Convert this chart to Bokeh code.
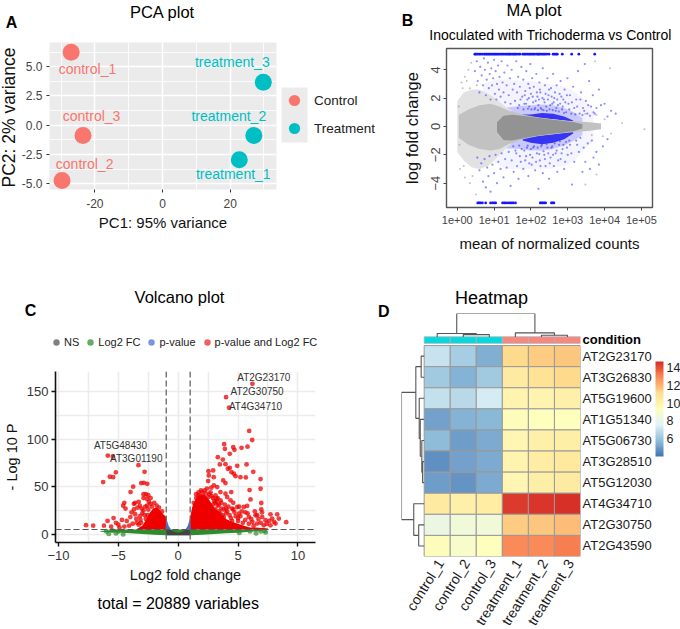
import math
from bokeh.core.properties import value
from bokeh.embed import file_html
from bokeh.resources import INLINE
from bokeh.models import (ColorBar, ColumnDataSource, FixedTicker, Label, Legend,
                          LegendItem, LinearColorMapper, Span)
from bokeh.palettes import RdYlBu7, interp_palette
from bokeh.plotting import figure
from bokeh.transform import linear_cmap

FONT = "Liberation Sans"

# ---------- PCA ----------
pca_names = ["control_1", "control_2", "control_3", "treatment_1", "treatment_2", "treatment_3"]
pca_pc1 = [-27.0, -29.7, -23.5, 22.7, 27.0, 29.8]
pca_pc2 = [6.24, -4.73, -0.88, -2.96, -0.88, 3.68]
pca_groups = ["Control", "Treatment"]
pca_xticks = [-20, 0, 20]
pca_xminor = [-30, -10, 10, 30]
pca_yticks = [-5.0, -2.5, 0.0, 2.5, 5.0]
pca_yminor = [-3.75, -1.25, 1.25, 3.75, 6.25]
pca_ylabels = ["-5.0", "-2.5", "0.0", "2.5", "5.0"]

ma_sparse_x = [1, 1.5, 2.5, 4, 7, 12, 20, 30]
ma_sparse_hi = [1.8, 2.4, 2.6, 2.6, 2.3, 1.9, 1.4, 1.1]
ma_sparse_lo = [-1.8, -2.4, -2.9, -3.0, -2.8, -2.2, -1.6, -1.2]
ma_grey_x = [1.1, 2, 4, 8, 14, 25, 60, 150, 400, 1000, 2000, 4000, 8000]
ma_grey_hi = [0.8, 1.2, 1.5, 1.6, 1.4, 1.1, 0.85, 0.65, 0.5, 0.4, 0.35, 0.3, 0.2]
ma_grey_lo = [-0.8, -1.3, -1.6, -1.7, -1.6, -1.25, -0.9, -0.7, -0.55, -0.45, -0.38, -0.3, -0.2]
ma_dark_x = [12, 18, 30, 60, 120, 300, 700, 1500, 2500]
ma_dark_hi = [0.3, 0.75, 0.82, 0.75, 0.65, 0.5, 0.4, 0.3, 0.15]
ma_dark_lo = [-0.4, -0.95, -1.0, -0.85, -0.7, -0.55, -0.45, -0.32, -0.15]
ma_blue_x = [5, 10, 20, 50, 100, 300, 800, 1500, 3000, 5000]
ma_blue_up = [3.0, 3.3, 3.3, 3.2, 3.2, 3.0, 2.8, 2.5, 1.8, 1.2]
ma_blue_down = [-2.0, -2.5, -3.0, -3.0, -3.0, -3.0, -2.8, -2.4, -1.6, -1.0]
ma_band_x = [12, 25, 50, 100, 200, 400, 800, 1500, 2500]
ma_band_inner_up = [1.0, 0.95, 0.8, 0.66, 0.58, 0.5, 0.42, 0.32, 0.2]
ma_band_outer_up = [1.2, 1.35, 1.45, 1.5, 1.55, 1.5, 1.3, 1.0, 0.6]
ma_band_inner_dn = [-1.25, -1.05, -0.88, -0.72, -0.62, -0.55, -0.45, -0.35, -0.2]
ma_band_outer_dn = [-1.45, -1.55, -1.6, -1.7, -1.7, -1.6, -1.35, -1.0, -0.6]
ma_core_x = [60, 100, 200, 400, 800, 1400]
ma_core_up = [0.85, 0.85, 0.95, 0.9, 0.7, 0.42]
ma_core_inner_up = [0.78, 0.68, 0.58, 0.5, 0.42, 0.33]
ma_core_dn = [-1.0, -1.15, -1.25, -1.15, -0.9, -0.5]
ma_core_inner_dn = [-0.86, -0.72, -0.62, -0.55, -0.45, -0.35]
ma_top_x = [3.0, 3.2, 3.5, 3.9, 4.3, 4.8, 5.4, 5.9, 6.4, 7.0, 7.6, 8.2, 9.0, 9.8, 10.6, 11.5, 12.5, 13.6, 15, 16.5,
            18, 20, 22, 24, 26, 28, 31, 34, 37, 40, 45, 50, 60, 66, 72, 80, 88, 96, 105, 115, 125, 140, 155, 165,
            180, 200, 220, 240, 270, 310, 400, 440, 480, 520, 710, 1280, 2000, 5400]
ma_top_y = [5.1] * len(ma_top_x)
ma_bot_x = [3.6, 3.9, 4.3, 4.8, 5.9, 8, 9, 10, 11, 17, 19, 21, 24, 27, 30, 33, 38, 180, 195, 210, 230, 250, 360, 390, 420]
ma_bot_y = [-5.4] * len(ma_bot_x)
ma_blue_pts = [
    (3, 3.9), (3.4, 4.6), (3.6, 3.2), (4, 2.4), (4.2, 4.2), (4.6, 3.6), (5, 2.9), (5.3, 4.8), (5.6, 4.0), (6, 2.2),
    (6.3, 3.3), (6.8, 4.5), (7.2, 2.7), (7.6, 3.7), (8, 1.9), (8.4, 4.1), (8.8, 2.9), (9.4, 3.4), (10, 4.7), (10.5, 2.3),
    (11, 3.9), (11.5, 1.9), (12, 3.0), (12.8, 4.3), (13.5, 2.6), (14, 3.5), (15, 2.1), (16, 4.6), (17, 3.1), (18, 2.4),
    (19, 3.8), (20, 1.7), (22, 2.9), (23, 4.3), (25, 2.2), (27, 3.4), (28, 1.6), (30, 4.0), (32, 2.6), (35, 3.0),
    (37, 1.8), (40, 4.6), (42, 2.4), (45, 3.5), (48, 1.5), (50, 2.8), (55, 4.2), (58, 2.1), (62, 3.3), (66, 1.6),
    (70, 2.5), (75, 3.9), (80, 1.9), (85, 3.0), (90, 1.4), (96, 4.4), (100, 2.3), (108, 3.4), (115, 1.7), (120, 2.8),
    (130, 1.3), (140, 3.7), (150, 2.1), (160, 1.5), (170, 3.1), (180, 2.4), (195, 1.2), (210, 4.1), (225, 1.9), (240, 2.9),
    (260, 1.4), (280, 3.4), (300, 2.2), (320, 1.2), (350, 2.7), (380, 1.6), (400, 3.7), (430, 2.0), (470, 1.1), (500, 2.9),
    (540, 1.5), (600, 2.3), (640, 3.2), (700, 1.2), (760, 1.9), (820, 2.6), (900, 1.0), (980, 3.4), (1050, 1.6), (1150, 2.2),
    (1250, 0.9), (1400, 2.8), (1500, 1.3), (1700, 1.9), (1900, 3.9), (2100, 0.9), (2300, 2.4), (2600, 1.3), (2900, 4.4),
    (3100, 1.8), (3400, 0.9), (3800, 3.2), (4300, 1.4), (4800, 2.2), (5400, 0.9), (6000, 1.3), (7000, 2.6), (8000, 1.5),
    (10000, 1.6), (12000, 0.7), (15000, 1.1), (20000, 0.9),
    (44, 1.3), (52, 1.9), (63, 1.2), (68, 2.2), (74, 1.6), (83, 1.25), (88, 2.0), (93, 2.7), (103, 1.2), (112, 2.1),
    (125, 1.2), (135, 1.8), (145, 2.4), (155, 1.15), (165, 1.9), (175, 2.6), (185, 1.3), (205, 2.0), (220, 1.15), (235, 1.7),
    (250, 2.3), (270, 1.1), (290, 1.9), (310, 2.6), (335, 1.5), (365, 2.1), (390, 1.15), (415, 1.7), (450, 2.4), (490, 1.3),
    (520, 1.9), (570, 1.05), (620, 1.6), (670, 2.1), (730, 1.4), (790, 0.95), (860, 1.7), (950, 2.2), (1100, 1.2), (1300, 1.7),
    (1600, 0.85), (1800, 1.4), (2200, 1.9), (2500, 0.8), (2800, 1.1), (3600, 1.5), (4000, 0.75), (5000, 1.0),
    (3.5, -2.2), (4, -3.1), (4.5, -2.6), (5, -3.9), (5.5, -2.3), (6, -4.3), (6.5, -2.9), (7, -3.5), (7.5, -2.1), (8, -4.6),
    (9, -2.7), (10, -3.3), (11, -2.0), (12, -4.0), (13, -2.5), (15, -3.0), (16, -1.9), (18, -3.6), (20, -2.3), (22, -2.9),
    (25, -1.8), (28, -4.2), (30, -2.4), (34, -3.2), (38, -1.7), (42, -2.8), (46, -3.7), (50, -2.1), (56, -1.6), (62, -3.0),
    (70, -2.4), (78, -1.5), (85, -3.5), (95, -2.0), (105, -2.7), (115, -1.5), (130, -3.1), (145, -1.9), (160, -4.4), (175, -2.4),
    (190, -1.4), (210, -3.3), (230, -2.0), (250, -2.8), (280, -1.5), (310, -3.7), (340, -2.2), (380, -1.4), (420, -2.8), (470, -1.9),
    (520, -3.2), (580, -1.3), (640, -2.3), (720, -1.6), (800, -3.0), (900, -1.1), (1000, -2.0), (1150, -1.3), (1300, -4.1), (1500, -2.5),
    (1700, -1.0), (2000, -1.8), (2500, -3.2), (3000, -2.5), (3500, -1.2), (4000, -3.0), (5000, -2.2), (6000, -1.8), (7000, -2.7),
    (9000, -1.4), (12000, -0.9),
    (33, -1.4), (40, -1.9), (48, -1.35), (53, -2.5), (66, -1.7), (74, -2.1), (82, -1.35), (90, -2.6), (100, -1.6), (110, -2.2),
    (122, -1.4), (138, -2.5), (152, -1.5), (168, -1.95), (182, -2.8), (198, -1.3), (220, -1.75), (240, -2.3), (265, -1.25), (295, -1.9),
    (325, -2.6), (360, -1.5), (400, -2.0), (445, -1.2), (500, -1.7), (550, -2.4), (610, -1.05), (680, -1.9), (760, -1.3), (850, -2.5),
    (950, -1.5), (1100, -1.0), (1250, -1.9), (1800, -1.3), (2200, -0.8), (2700, -1.5), (4500, -1.0),
]
ma_grey_pts = [
    (1.3, 3.1), (1.6, 3.5), (2, 4.0), (2.4, 4.5), (1.4, 2.7), (1.8, 3.2), (1.2, -3.0), (1.6, -3.6), (2.2, -4.0), (3.2, -4.8),
    (1.5, -2.8), (2.6, -3.5), (14000, 4.1), (5500, 4.6), (3000, 0.9), (6000, 0.8), (10000, 0.5), (30000, 0.25), (120000, -0.2),
    (15000, -0.5), (9000, -0.7), (4500, -0.6), (3000, -4.1), (6000, -3.4), (1.1, 1.4), (1.15, -1.3), (2.2, 2.7), (3.4, 2.9),
]
ma_xticks = [1, 10, 100, 1000, 10000, 100000]
ma_xlabels = ["1e+00", "1e+01", "1e+02", "1e+03", "1e+04", "1e+05"]
ma_yticks = [-4, -2, 0, 2, 4]

# ---------- Volcano: envelopes and hand-read dots ----------
vol_xticks = [-10, -5, 0, 5, 10]
vol_yticks = [0, 50, 100, 150]
vol_xminor = [-7.5, -2.5, 2.5, 7.5]
vol_yminor = [25, 75, 125]
vol_green_x = [-6.5, -5, -4, -3, -2, -1, 1, 2, 3, 4, 5, 6, 7]
vol_green_hi = [3.5, 5, 5, 5, 5, 5, 5, 5, 5, 5, 5, 5, 4.5]
vol_green_lo = [2.5, 1.8, 1.0, 0.3, -0.5, -1, -1, -0.5, 0.2, 0.9, 1.5, 2.5, 3.5]
vol_ns_x = [-1, -0.7, -0.5, -0.3, 0, 0.3, 0.5, 0.7, 1]
vol_ns_hi = [5, 5, 3.8, 2.4, 1.6, 2.4, 3.8, 5, 5]
vol_ns_lo = [-1, -1, -1, -1, -1, -1, -1, -1, -1]
vol_blue_lx = [-1, -0.8, -0.6]
vol_blue_rx = [0.6, 0.8, 1]
vol_blue_l_hi = [17, 9, 5]
vol_blue_r_hi = [5, 9, 17]
vol_blue_lo = [5, 5, 5]
vol_red_lx = [-3.4, -3.0, -2.7, -2.4, -2.1, -1.8, -1.5, -1.25, -1.0]
vol_red_l_hi = [6, 9, 15, 22, 27, 28, 25, 21, 18]
vol_red_rx = [1, 1.2, 1.5, 1.8, 2.2, 2.6, 3, 3.5, 4, 4.5, 5, 5.5, 6, 6.5, 7, 7.5]
vol_red_r_hi = [18, 30, 38, 42, 42, 36, 28, 22, 16, 13, 11, 9, 7, 7, 6.5, 6]
vol_red_lo_l = [5] * len(vol_red_lx)
vol_red_lo_r = [5] * len(vol_red_rx)
vol_green_pts = [(-6.0, 3), (-5.8, 0.5), (-5.2, 1), (-5.0, 3), (-5.5, 4), (-4.6, 0), (5.1, 1.5), (6.0, 3), (6.5, 1), (6.9, 3),
                 (7.3, 2), (7.2, 4)]
vol_red_pts = [
    (6.2, 158), (4.0, 144), (4.25, 133), (5.93, 108.6), (6.18, 99), (3.84, 94.6), (3.9, 89.7), (4.6, 91.4), (4.7, 88.7),
    (5.29, 90.8), (5.79, 92), (4.31, 84.5), (3.31, 81), (3.73, 78.5), (3.48, 73.3), (3.95, 73.6), (4.93, 71.9), (5.71, 73.3),
    (6.27, 65.6), (2.53, 66.3), (2.92, 67), (4.15, 68.8), (4.31, 69.8), (4.45, 65.2), (4.65, 63.6), (4.79, 61), (5.2, 60),
    (5.65, 59.7), (6.88, 57.9), (2.56, 61.8), (2.5, 55.8), (2.97, 60), (3.76, 56.5), (3.95, 53.7), (5.96, 46.4), (6.88, 47.8),
    (6.04, 36.6), (6.94, 32.8), (6.94, 26.2), (2.98, 51.3), (2.76, 48.9), (3.26, 49.6), (3.53, 44.3), (3.95, 42.6), (4.43, 44.3),
    (4.09, 39), (3.53, 35.6), (4.37, 35.6), (3.12, 40.8), (4.93, 28.6), (5.48, 28.6), (5.76, 29.7), (4.51, 26.9), (5.07, 21.6),
    (5.9, 18.2), (6.46, 19.9), (7.02, 18.2), (7.71, 20.9), (8.27, 20.9), (8.41, 16.4), (9.02, 12.6), (7.85, 16.4), (7.29, 14.7),
    (6.6, 11.2), (7.15, 9.4), (7.71, 9.4), (8.13, 11.2),
    (3.1, 33), (3.3, 30), (3.6, 27), (3.9, 31), (4.1, 24), (4.3, 20), (4.7, 23), (5.0, 17), (5.3, 24), (5.6, 15), (5.8, 22),
    (6.2, 13), (6.4, 24), (6.7, 16), (7.0, 23), (7.4, 11), (3.4, 24), (3.7, 20), (2.7, 44), (2.9, 38), (2.4, 48), (2.2, 46),
    (1.9, 46), (1.7, 44), (1.5, 42), (3.2, 37), (4.6, 33), (5.1, 29), (4.0, 27), (6.6, 20), (7.6, 14), (8.0, 13), (6.9, 12),
    (1.3, 33), (1.5, 38), (1.7, 41), (2.0, 44), (2.3, 43), (2.6, 42), (2.8, 40), (3.0, 35), (3.2, 34), (2.5, 39), (3.4, 31),
    (3.6, 33), (3.8, 26), (4.0, 22), (4.2, 29), (4.4, 17), (4.6, 26), (4.8, 19), (5.0, 14), (5.2, 19), (5.4, 12), (5.6, 23),
    (5.9, 11), (6.1, 16), (6.3, 9), (3.1, 26), (3.3, 38), (3.5, 22), (2.9, 31), (4.5, 14), (3.8, 18),
    (-5.88, 82.7), (-5.46, 81.7), (-3.32, 72.6), (-2.81, 65.6), (-5.21, 65), (-5.71, 60.4), (-5.43, 60), (-6.27, 54.8), (-3.76, 50),
    (-3.09, 53.7), (-2.87, 54), (-2.59, 53), (-3.98, 44.3),
    (-2.9, 42), (-2.7, 42), (-2.5, 41), (-2.3, 38), (-2.6, 37), (-2.9, 38), (-3.3, 34), (-3.6, 33), (-3.7, 32), (-4.5, 33),
    (-4.6, 30), (-4.4, 27), (-3.2, 30), (-3.4, 28), (-3.7, 26), (-3.9, 23), (-4.0, 18), (-4.3, 14), (-4.7, 15), (-5.0, 10),
    (-5.2, 12), (-5.4, 17), (-5.6, 8), (-5.9, 14), (-6.2, 9), (-7.1, 9), (-7.7, 9.5), (-4.9, 7), (-4.5, 8), (-4.1, 9),
    (-3.5, 16), (-3.2, 19), (-3.0, 22), (-2.9, 25), (-3.1, 12), (-3.3, 10), (-3.8, 11), (-2.7, 16), (-2.6, 30), (-2.3, 32),
    (-2.0, 33), (-1.8, 30), (-2.5, 26), (-2.75, 29), (-2.45, 34), (-2.2, 29), (-2.8, 20), (-3.15, 15), (-3.45, 12), (-3.6, 21),
    (-3.05, 27), (-2.55, 20), (-1.6, 28), (-1.35, 24),
]
vol_genes = ["AT2G23170", "AT2G30750", "AT4G34710", "AT5G48430", "AT3G01190"]
vol_gene_x = [6.2, 4.0, 4.25, -5.88, -5.46]
vol_gene_y = [158, 144, 133, 82.7, 81.7]
vol_legend = ["NS", "Log2 FC", "p-value", "p-value and Log2 FC"]
vol_pcut = 5
vol_fccut = 1

# ---------- Heatmap ----------
hm_cols = ["control_1", "control_2", "control_3", "treatment_1", "treatment_2", "treatment_3"]
hm_rows = ["AT2G23170", "AT3G26830", "AT5G19600", "AT1G51340", "AT5G06730", "AT3G28510", "AT5G12030", "AT4G34710",
           "AT2G30750", "AT2G43590"]
hm_values = [
    [7.0, 6.3, 5.4, 11.2, 11.5, 11.7],
    [6.2, 5.6, 6.2, 10.5, 10.9, 11.2],
    [6.9, 6.7, 7.4, 9.9, 9.9, 10.1],
    [5.1, 5.5, 5.7, 9.5, 9.4, 9.4],
    [5.8, 5.0, 5.3, 9.8, 10.1, 10.3],
    [4.7, 5.1, 5.3, 9.9, 10.4, 10.6],
    [5.0, 4.8, 5.3, 9.8, 10.3, 10.5],
    [10.5, 10.1, 10.4, 14.4, 14.5, 14.6],
    [8.2, 8.5, 8.5, 11.5, 11.6, 11.9],
    [9.5, 9.0, 9.4, 12.9, 12.9, 13.1],
]
hm_cond_colors = ["#00DAE0", "#00DAE0", "#00DAE0", "#F8877F", "#F8877F", "#F8877F"]
hm_row_dendro = [
    ([0, -0.115, -0.115, 0], [9.5, 9.5, 8.5, 8.5]),
    ([0, -0.06, -0.06, 0], [4.5, 4.5, 3.5, 3.5]),
    ([0, -0.09, -0.09, -0.06], [5.5, 5.5, 4.0, 4.0]),
    ([0, -0.15, -0.15, -0.09], [6.5, 6.5, 4.75, 4.75]),
    ([0, -0.19, -0.19, -0.15], [7.5, 7.5, 5.6, 5.6]),
    ([-0.115, -0.32, -0.32, -0.19], [9.0, 9.0, 6.55, 6.55]),
    ([0, -0.21, -0.21, 0], [1.5, 1.5, 0.5, 0.5]),
    ([0, -0.4, -0.4, -0.21], [2.5, 2.5, 1.0, 1.0]),
    ([-0.32, -0.87, -0.87, -0.4], [7.78, 7.78, 1.75, 1.75]),
]
hm_col_dendro = [
    ([1.5, 1.5, 2.5, 2.5], [10.41, 10.52, 10.52, 10.41]),
    ([0.5, 0.5, 2.0, 2.0], [10.41, 10.57, 10.57, 10.52]),
    ([4.5, 4.5, 5.5, 5.5], [10.41, 10.49, 10.49, 10.41]),
    ([3.5, 3.5, 5.0, 5.0], [10.41, 10.6, 10.6, 10.49]),
    ([1.25, 1.25, 4.25, 4.25], [10.57, 11.52, 11.52, 10.6]),
]
cb_ticks = [6, 8, 10, 12, 14]

PAGE_W, PAGE_H = 680, 629


def make_fig(w, h, left, right, top, bottom, page_x, page_y, **kw):
    return figure(width=w, height=h, output_backend="svg", toolbar_location=None, min_border_left=left,
                  min_border_right=right, min_border_top=top, min_border_bottom=bottom,
                  styles={"position": "absolute", "left": f"{page_x}px", "top": f"{page_y}px"}, **kw)


# Transparent full-page figure: holds titles, panel letters and legends, which lie outside the panels' frames.
O = make_fig(PAGE_W, PAGE_H, 0, 0, 0, 0, 0, 0, x_range=(0, PAGE_W), y_range=(PAGE_H, 0))
O.xaxis.visible = False
O.yaxis.visible = False
O.xgrid.visible = False
O.ygrid.visible = False
O.outline_line_color = None
O.background_fill_alpha = 0
O.border_fill_alpha = 0


def put(origin, px, py, text, size, color="#000000", style="normal", angle=0.0, align="center"):
    """Place a text on the overlay; origin = panel's page offset."""
    O.add_layout(Label(x=origin[0] + px, y=origin[1] + py, text=text, text_font=FONT, text_font_size=f"{size}px",
                       text_color=color, text_font_style=style, text_align=align, text_baseline="middle", angle=angle))


def style_axis(ax, label_size, color="#333333"):
    ax.major_label_text_font = FONT
    ax.major_label_text_font_size = f"{label_size}px"
    ax.major_label_text_color = color
    ax.axis_label_text_font = FONT
    ax.axis_label_text_font_style = "normal"
    ax.axis_label_text_color = "#111111"


def legend_key(color, size):
    # a one-point renderer parked outside the overlay's range: only its legend glyph is seen
    return O.scatter([-50], [-50], size=size, color=color, line_color=None)


# ===== A =====
A = make_fig(390, 270, 49, 114, 42, 81, 0, 0, x_range=(-33.4, 33.7), y_range=(-5.5, 7.07))
A.background_fill_color = "#EBEBEB"
A.outline_line_color = None
A.xaxis.ticker = FixedTicker(ticks=pca_xticks, minor_ticks=pca_xminor)
A.yaxis.ticker = FixedTicker(ticks=pca_yticks, minor_ticks=pca_yminor)
A.yaxis.major_label_overrides = dict(zip(pca_yticks, pca_ylabels))
A.xaxis.major_label_overrides = {-20: "-20", 0: "0", 20: "20"}
for g in (A.xgrid[0], A.ygrid[0]):
    g.grid_line_color = "white"
    g.grid_line_width = 1.5
    g.minor_grid_line_color = "white"
    g.minor_grid_line_width = 0.8
for ax in (A.xaxis[0], A.yaxis[0]):
    style_axis(ax, 12, "#444444")
    ax.axis_line_color = None
    ax.minor_tick_line_color = None
    ax.major_tick_line_color = "#333333"
    ax.major_tick_out = 3
    ax.major_tick_in = 0
    ax.axis_label_text_font_size = "15px"
A.xaxis.axis_label = "PC1: 95% variance"
A.xaxis.major_label_standoff = 5
A.xaxis.axis_label_standoff = 3
A.yaxis.major_label_standoff = 3
pca_color = ["#F8766D"] * 3 + ["#00BFC4"] * 3
pca_off_x = [16.3, 22.6, 8.6, -6, -25, -31]
pca_off_y = [16.3, -16.7, -19.7, 14.7, -19.7, -20]
src = ColumnDataSource(dict(x=pca_pc1, y=pca_pc2, c=pca_color, t=pca_names, ox=pca_off_x, oy=pca_off_y))
A.scatter("x", "y", source=src, size=17, color="c", line_color=None)
A.text("x", "y", text="t", source=src, x_offset="ox", y_offset="oy", text_color="c", text_font=value(FONT),
       text_font_size="14px", text_align="center", text_baseline="middle")
O.quad(left=[281], right=[307], top=[87], bottom=[142], fill_color="#EBEBEB", line_color=None)
keyA = [legend_key(c, 11) for c in ("#F8766D", "#00BFC4")]
O.add_layout(Legend(items=[LegendItem(label=t, renderers=[r]) for t, r in zip(pca_groups, keyA)],
                    location=(280, PAGE_H - 142), orientation="vertical", glyph_width=28, glyph_height=28, spacing=0,
                    padding=0, margin=0, label_standoff=6, border_line_color=None, background_fill_alpha=0,
                    label_text_font=FONT, label_text_font_size="13.5px", label_text_color="#222222"), "center")
put((0, 0), 162, 11, "PCA plot", 16.5)
put((0, 0), 11, 21.7, "A", 16, style="bold")
put((0, 0), 8, 117, "PC2: 2% variance", 17.5, color="#111111", angle=math.pi / 2)

# ===== B =====
B = make_fig(290, 270, 56, 28, 48, 63, 390, 0, x_axis_type="log", x_range=(0.51, 200000), y_range=(-5.72, 5.5))
B.xgrid.visible = False
B.ygrid.visible = False
B.outline_line_color = "#555555"
B.outline_line_width = 1.4
B.varea(ma_blue_x, ma_blue_up, ma_blue_down, fill_color="#4040FF", fill_alpha=0.06)
B.varea(ma_band_x, ma_band_outer_up, ma_band_inner_up, fill_color="#3030FF", fill_alpha=0.22)
B.varea(ma_band_x, ma_band_outer_dn, ma_band_inner_dn, fill_color="#3030FF", fill_alpha=0.22)
B.varea(ma_core_x, ma_core_up, ma_core_inner_up, fill_color="#1010F0", fill_alpha=0.8)
B.varea(ma_core_x, ma_core_dn, ma_core_inner_dn, fill_color="#1010F0", fill_alpha=0.8)
B.varea(ma_sparse_x, ma_sparse_hi, ma_sparse_lo, fill_color="#E2E2E2", fill_alpha=1)
B.varea(ma_grey_x, ma_grey_hi, ma_grey_lo, fill_color="#C2C2C2", fill_alpha=1)
B.varea(ma_dark_x, ma_dark_hi, ma_dark_lo, fill_color="#939393", fill_alpha=1)
B.scatter([p[0] for p in ma_grey_pts], [p[1] for p in ma_grey_pts], size=2, color="#999999", alpha=0.6, line_color=None)
B.scatter([p[0] for p in ma_blue_pts], [p[1] for p in ma_blue_pts], size=2.2, color="#2020FF", alpha=0.5, line_color=None)
B.scatter(ma_top_x, ma_top_y, size=2.8, color="#1515FF", line_color=None)
B.scatter(ma_bot_x, ma_bot_y, size=2.8, color="#1515FF", line_color=None)
B.xaxis.ticker = FixedTicker(ticks=ma_xticks)
B.xaxis.major_label_overrides = dict(zip(ma_xticks, ma_xlabels))
B.yaxis.ticker = FixedTicker(ticks=ma_yticks)
B.yaxis.major_label_orientation = "vertical"
for ax in (B.xaxis[0], B.yaxis[0]):
    style_axis(ax, 11, "#444444")
    ax.axis_line_color = None
    ax.minor_tick_line_color = None
    ax.major_tick_line_color = "#444444"
    ax.major_tick_out = 3
    ax.major_tick_in = 0
B.xaxis.axis_label_text_font_size = "15px"
B.yaxis.axis_label_text_font_size = "16.5px"
B.yaxis.major_label_text_font_size = "13px"
B.xaxis.axis_label = "mean of normalized counts"
B.yaxis.axis_label = "log fold change"
B.xaxis.major_label_standoff = 5
B.xaxis.axis_label_standoff = 8
B.yaxis.major_label_standoff = 3
B.yaxis.axis_label_standoff = 8
put((390, 0), 144, 9, "MA plot", 16.5)
put((390, 0), 160, 34, "Inoculated with Trichoderma vs Control", 14)
put((390, 0), 17, 20, "B", 16, style="bold")

# ===== C =====
C = make_fig(370, 359, 55, 55, 101, 87, 0, 270, x_range=(-10.25, 11.47), y_range=(-8.7, 171))
C.outline_line_color = None
C.xaxis.ticker = FixedTicker(ticks=vol_xticks, minor_ticks=vol_xminor)
C.yaxis.ticker = FixedTicker(ticks=vol_yticks, minor_ticks=vol_yminor)
C.xaxis.major_label_overrides = {-10: "\u221210", -5: "\u22125", 0: "0", 5: "5", 10: "10"}
for g in (C.xgrid[0], C.ygrid[0]):
    g.grid_line_color = "#ECECEC"
    g.grid_line_width = 1.6
    g.minor_grid_line_color = "#ECECEC"
    g.minor_grid_line_width = 1.6
for ax in (C.xaxis[0], C.yaxis[0]):
    style_axis(ax, 13)
    ax.axis_line_color = "#111111"
    ax.axis_line_width = 1.6
    ax.minor_tick_line_color = None
    ax.major_tick_line_color = "#111111"
    ax.major_tick_line_width = 1.4
    ax.major_tick_out = 4
    ax.major_tick_in = 0
    ax.axis_label_text_font_size = "14.5px"
C.xaxis.axis_label = "Log2 fold change"
C.yaxis.axis_label = "- Log 10 P"
C.xaxis.major_label_standoff = 4
C.xaxis.axis_label_standoff = 4
C.yaxis.major_label_standoff = 3
C.yaxis.axis_label_standoff = 4
C.varea(vol_green_x, vol_green_hi, vol_green_lo, fill_color="#2E8B2E")
C.scatter([p[0] for p in vol_green_pts], [p[1] for p in vol_green_pts], size=5, color="#2E8B2E", alpha=0.7, line_color=None)
C.varea(vol_ns_x, vol_ns_hi, vol_ns_lo, fill_color="#444444")
C.varea(vol_blue_lx, vol_blue_l_hi, vol_blue_lo, fill_color="#3F6FE0")
C.varea(vol_blue_rx, vol_blue_r_hi, vol_blue_lo, fill_color="#3F6FE0")
C.varea(vol_red_lx, vol_red_l_hi, vol_red_lo_l, fill_color="#EE0000")
C.varea(vol_red_rx, vol_red_r_hi, vol_red_lo_r, fill_color="#EE0000")
C.scatter([p[0] for p in vol_red_pts], [p[1] for p in vol_red_pts], size=4.8, color="#EE0000", alpha=0.75, line_color=None)
for loc in (-vol_fccut, vol_fccut):
    C.add_layout(Span(location=loc, dimension="height", line_color="#666666", line_dash=[6, 3], line_width=1.3))
C.add_layout(Span(location=vol_pcut, dimension="width", line_color="#555555", line_dash=[6, 3], line_width=1.1))
vsrc = ColumnDataSource(dict(x=vol_gene_x, y=vol_gene_y, t=vol_genes, ox=[11.4, 31, 26.4, 12.7, 23.4],
                             oy=[-6.7, -5.5, -1.3, -10, 2.3]))
C.text("x", "y", text="t", source=vsrc, x_offset="ox", y_offset="oy", text_font=value(FONT), text_font_size="10px",
       text_color="#333333", text_align="center", text_baseline="middle")
keyC = [legend_key(c, 7) for c in ("#808080", "#66AA66", "#7B93E6", "#F06060")]
O.add_layout(Legend(items=[LegendItem(label=t, renderers=[r]) for t, r in zip(vol_legend, keyC)], orientation="horizontal",
                    location=(48, PAGE_H - 351), glyph_width=16, glyph_height=18, spacing=3, padding=0, margin=0,
                    label_standoff=0, label_width=0, border_line_color=None, background_fill_alpha=0, label_text_font=FONT,
                    label_text_font_size="11px", label_text_color="#222222"), "center")
put((0, 270), 179, 26.7, "Volcano plot", 16.5)
put((0, 270), 30, 40, "C", 16, style="bold")
put((0, 270), 177.7, 333, "total = 20889 variables", 16)

# ===== D =====
D = make_fig(310, 359, 31, 100, 43, 73, 370, 270, x_range=(-0.87, 6), y_range=(0, 11.52), y_axis_location="right")
D.outline_line_color = None
D.xgrid.visible = False
D.ygrid.visible = False
D.xaxis.visible = False
cx, cy, cv = [], [], []
for i, vals in enumerate(hm_values):
    for j, v in enumerate(vals):
        cx.append(j + 0.5)
        cy.append(9.5 - i)
        cv.append(v)
pal = interp_palette(RdYlBu7, 100)
mapper = LinearColorMapper(palette=pal, low=4.0, high=14.7)
D.rect("x", "y", 1, 1, source=ColumnDataSource(dict(x=cx, y=cy, v=cv)), fill_color=linear_cmap("v", pal, 4.0, 14.7),
       line_color="#999999", line_width=1)
D.rect([k + 0.5 for k in range(6)], [10.26] * 6, 1, 0.31, fill_color=hm_cond_colors, line_color="#B0B0B0", line_width=0.8)
D.multi_line([s[0] for s in hm_row_dendro + hm_col_dendro], [s[1] for s in hm_row_dendro + hm_col_dendro],
             line_color="#555555", line_width=1.1)
ytick = [9.5 - i for i in range(10)]
D.yaxis.ticker = FixedTicker(ticks=ytick)
D.yaxis.major_label_overrides = dict(zip(ytick, hm_rows))
ay = D.yaxis[0]
style_axis(ay, 13, "#1A1A1A")
ay.axis_line_color = None
ay.major_tick_line_color = None
ay.minor_tick_line_color = None
ay.major_tick_out = 0
ay.major_tick_in = 0
ay.major_label_standoff = 2
put((370, 270), 212, 69, "condition", 13, style="bold", align="left")
put((370, 270), 121, 27.3, "Heatmap", 18)
put((370, 270), 13.3, 40.7, "D", 16, style="bold")
for j, name in enumerate(hm_cols):
    put((370, 270), 70 + 26 * j, 290, name, 14, color="#1A1A1A", angle=math.radians(58), align="right")
cb = ColorBar(color_mapper=mapper, location=(254, 100), width=8, height=95, padding=0, margin=0,
              ticker=FixedTicker(ticks=cb_ticks), major_tick_line_color=None, bar_line_color=None,
              label_standoff=3, major_label_text_font=FONT, major_label_text_font_size="12.5px",
              major_label_text_color="#222222", background_fill_alpha=0)
D.add_layout(cb, "center")

p = [A, B, C, D, O]
open("out.html", "w").write(file_html(p, INLINE))
